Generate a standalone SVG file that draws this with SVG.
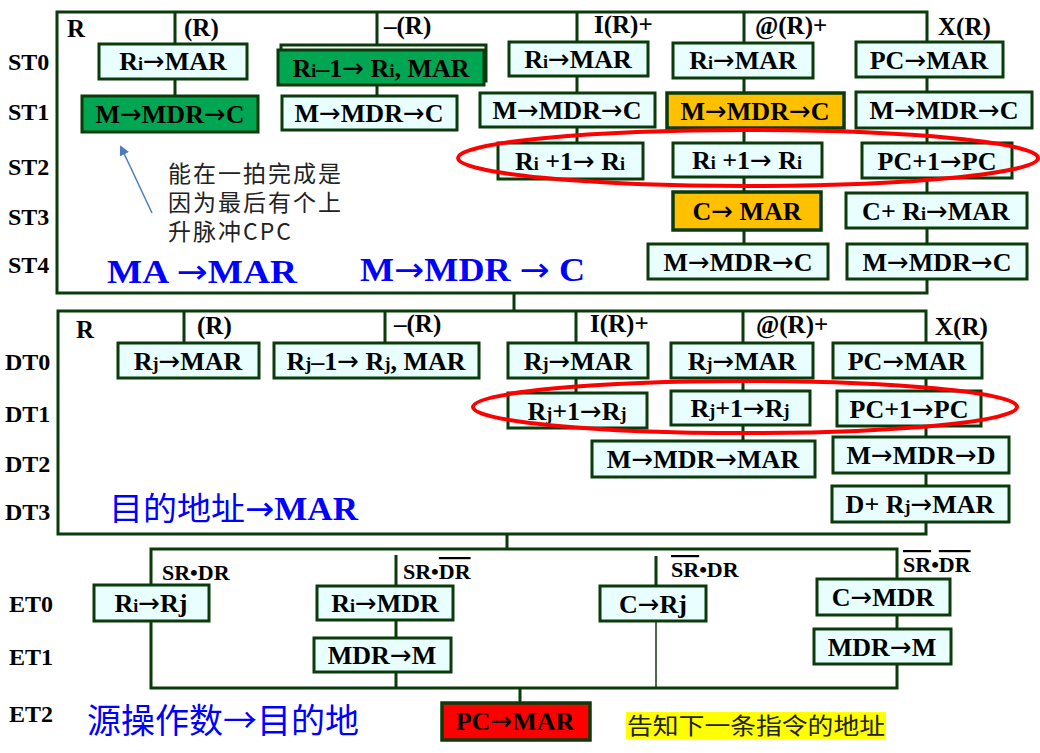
<svg xmlns="http://www.w3.org/2000/svg" width="1040" height="753" viewBox="0 0 1040 753">
<defs>
<style>
.ln{stroke:#0b3a0b;stroke-width:3;fill:none}
.thin{stroke:#0b3a0b;stroke-width:1.5;fill:none}
.bx{fill:#e9ffff;stroke:#0b3a0b;stroke-width:3}
.gr{fill:#00a651;stroke:#0b3a0b;stroke-width:3}
.or{fill:#ffc000;stroke:#0b3a0b;stroke-width:3.5}
.rd{fill:#ff0000;stroke:#0b3a0b;stroke-width:3.5}
.t{font-family:"Liberation Serif",serif;font-weight:bold;font-size:26px;text-anchor:middle;fill:#000}
.s{font-size:18px}
.a{font-family:"DejaVu Sans",sans-serif;font-weight:normal}
.lb{font-family:"Liberation Serif",serif;font-weight:bold;font-size:24px;fill:#000}
.cl{font-family:"Liberation Serif",serif;font-weight:bold;font-size:25px;fill:#000}
.sr{font-family:"Liberation Serif",serif;font-weight:bold;font-size:22px;fill:#000}
.ov{text-decoration:overline}
.blue{font-family:"Liberation Serif",serif;font-weight:bold;font-size:33px;fill:#0000ff}
.cjkb{font-family:"Noto Sans CJK SC",sans-serif;font-weight:normal;fill:#0000ff}
.cjk{font-family:"Noto Sans CJK SC",sans-serif;font-weight:normal;font-size:23px;letter-spacing:2px;fill:#222}
.ell{fill:none;stroke:#ff0000;stroke-width:4}
</style>
<marker id="ah" markerWidth="10" markerHeight="10" refX="8" refY="5" orient="auto" markerUnits="userSpaceOnUse">
<path d="M0,0 L10,5 L0,10 Z" fill="#4a7ebb"/>
</marker>
</defs>
<rect width="1040" height="753" fill="#ffffff"/>

<g id="connectors">
<rect class="ln" x="57" y="12" width="870" height="281"/>
<path class="ln" d="M175,12V96 M377,12V96 M577,12V143 M744,12V244 M514,293V311"/>
<rect class="ln" x="58" y="311" width="868" height="223"/>
<path class="ln" d="M184,311V343 M385,311V343 M576,311V393 M743,311V441 M507,534V549"/>
<rect class="ln" x="151" y="549" width="746" height="139"/>
<path class="ln" d="M396,555V688 M656,556V621 M520,688V703"/>
<path class="thin" d="M656,621V688"/>
<line x1="152" y1="213" x2="121" y2="147" stroke="#4a7ebb" stroke-width="1.5" marker-end="url(#ah)"/>
</g>

<g id="labels">
<text class="lb" x="8" y="70">ST0</text>
<text class="lb" x="8" y="120">ST1</text>
<text class="lb" x="8" y="175">ST2</text>
<text class="lb" x="8" y="225">ST3</text>
<text class="lb" x="8" y="273">ST4</text>
<text class="lb" x="5" y="370">DT0</text>
<text class="lb" x="5" y="422">DT1</text>
<text class="lb" x="5" y="472">DT2</text>
<text class="lb" x="5" y="520">DT3</text>
<text class="lb" x="9" y="612">ET0</text>
<text class="lb" x="9" y="665">ET1</text>
<text class="lb" x="9" y="722">ET2</text>

<text class="cl" x="67" y="37">R</text>
<text class="cl" x="184" y="36">(R)</text>
<text class="cl" x="384" y="34">–(R)</text>
<text class="cl" x="594" y="33">I(R)+</text>
<text class="cl" x="755" y="34">@(R)+</text>
<text class="cl" x="938" y="35">X(R)</text>

<text class="cl" x="76" y="338">R</text>
<text class="cl" x="197" y="334">(R)</text>
<text class="cl" x="394" y="332">–(R)</text>
<text class="cl" x="590" y="332">I(R)+</text>
<text class="cl" x="756" y="333">@(R)+</text>
<text class="cl" x="935" y="335">X(R)</text>

<text class="sr" x="162" y="580">SR•DR</text>
<text class="sr" x="403" y="579">SR•<tspan class="ov">DR</tspan></text>
<text class="sr" x="671" y="577"><tspan class="ov">SR</tspan>•DR</text>
<text class="sr" x="903" y="572"><tspan class="ov">SR</tspan>•<tspan class="ov">DR</tspan></text>

<text class="blue" x="107" y="283" textLength="190" lengthAdjust="spacingAndGlyphs">MA  <tspan class="a">→</tspan>MAR</text>
<text class="blue" x="360" y="281" textLength="225" lengthAdjust="spacingAndGlyphs">M<tspan class="a">→</tspan>MDR <tspan class="a">→</tspan> C</text>
<text x="109" y="520" textLength="249" lengthAdjust="spacingAndGlyphs"><tspan class="cjkb" font-size="32">目的地址</tspan><tspan class="blue"><tspan class="a">→</tspan>MAR</tspan></text>
<text class="cjkb" x="87" y="733" font-size="34">源操作数→目的地</text>

<text class="cjk" x="168" y="182">能在一拍完成是</text>
<text class="cjk" x="168" y="211">因为最后有个上</text>
<text class="cjk" x="168" y="240">升脉冲CPC</text>

<rect x="626" y="712" width="260" height="27" fill="#ffff00"/>
<text class="cjk" x="627" y="734" font-size="25" fill="#000" textLength="258" lengthAdjust="spacingAndGlyphs" style="letter-spacing:0">告知下一条指令的地址</text>
</g>

<g id="st0_R"><rect class="bx" x="99" y="44" width="148" height="35"/><text class="t" x="173" y="70">R<tspan class="s">i</tspan><tspan class="a">→</tspan>MAR</text></g>
<g id="st1_R"><rect class="gr" x="82" y="96" width="176" height="36"/><text class="t" x="170" y="123">M<tspan class="a">→</tspan>MDR<tspan class="a">→</tspan>C</text></g>
<g id="st0_mR"><rect x="281" y="45" width="205" height="36" fill="#ffffff" stroke="#0b3a0b" stroke-width="3"/><rect class="gr" x="278" y="50" width="206" height="35"/><text class="t" x="381" y="77">R<tspan class="s">i</tspan>–1<tspan class="a">→</tspan> R<tspan class="s">i</tspan>, MAR</text></g>
<g id="st1_mR"><rect class="bx" x="282" y="96" width="175" height="34"/><text class="t" x="369" y="122">M<tspan class="a">→</tspan>MDR<tspan class="a">→</tspan>C</text></g>
<g id="st0_I"><rect class="bx" x="509" y="42" width="139" height="34"/><text class="t" x="578" y="68">R<tspan class="s">i</tspan><tspan class="a">→</tspan>MAR</text></g>
<g id="st1_I"><rect class="bx" x="480" y="93" width="175" height="34"/><text class="t" x="567" y="119">M<tspan class="a">→</tspan>MDR<tspan class="a">→</tspan>C</text></g>
<g id="st2_I"><rect class="bx" x="498" y="143" width="145" height="36"/><text class="t" x="570" y="170">R<tspan class="s">i</tspan> +1<tspan class="a">→</tspan> R<tspan class="s">i</tspan></text></g>
<g id="st0_A"><rect class="bx" x="673" y="43" width="140" height="35"/><text class="t" x="743" y="69">R<tspan class="s">i</tspan><tspan class="a">→</tspan>MAR</text></g>
<g id="st1_A"><rect class="or" x="667" y="93" width="177" height="35"/><text class="t" x="755" y="120">M<tspan class="a">→</tspan>MDR<tspan class="a">→</tspan>C</text></g>
<g id="st2_A"><rect class="bx" x="673" y="143" width="149" height="34"/><text class="t" x="747" y="169">R<tspan class="s">i</tspan> +1<tspan class="a">→</tspan> R<tspan class="s">i</tspan></text></g>
<g id="st3_A"><rect class="or" x="673" y="192" width="148" height="38"/><text class="t" x="747" y="220">C<tspan class="a">→</tspan> MAR</text></g>
<g id="st4_A"><rect class="bx" x="648" y="244" width="180" height="35"/><text class="t" x="738" y="271">M<tspan class="a">→</tspan>MDR<tspan class="a">→</tspan>C</text></g>
<g id="st0_X"><rect class="bx" x="856" y="42" width="147" height="35"/><text class="t" x="929" y="69">PC<tspan class="a">→</tspan>MAR</text></g>
<g id="st1_X"><rect class="bx" x="856" y="92" width="176" height="36"/><text class="t" x="944" y="119">M<tspan class="a">→</tspan>MDR<tspan class="a">→</tspan>C</text></g>
<g id="st2_X"><rect class="bx" x="862" y="143" width="150" height="35"/><text class="t" x="937" y="170">PC+1<tspan class="a">→</tspan>PC</text></g>
<g id="st3_X"><rect class="bx" x="846" y="193" width="181" height="35"/><text class="t" x="936" y="220">C+ R<tspan class="s">i</tspan><tspan class="a">→</tspan>MAR</text></g>
<g id="st4_X"><rect class="bx" x="847" y="244" width="180" height="35"/><text class="t" x="937" y="271">M<tspan class="a">→</tspan>MDR<tspan class="a">→</tspan>C</text></g>

<g id="dt0_R"><rect class="bx" x="118" y="343" width="141" height="35"/><text class="t" x="188" y="370">R<tspan class="s">j</tspan><tspan class="a">→</tspan>MAR</text></g>
<g id="dt0_mR"><rect class="bx" x="274" y="343" width="205" height="35"/><text class="t" x="376" y="370">R<tspan class="s">j</tspan>–1<tspan class="a">→</tspan> R<tspan class="s">j</tspan>, MAR</text></g>
<g id="dt0_I"><rect class="bx" x="508" y="343" width="140" height="35"/><text class="t" x="578" y="370">R<tspan class="s">j</tspan><tspan class="a">→</tspan>MAR</text></g>
<g id="dt0_A"><rect class="bx" x="671" y="343" width="142" height="35"/><text class="t" x="742" y="370">R<tspan class="s">j</tspan><tspan class="a">→</tspan>MAR</text></g>
<g id="dt0_X"><rect class="bx" x="833" y="343" width="149" height="35"/><text class="t" x="907" y="370">PC<tspan class="a">→</tspan>MAR</text></g>
<g id="dt1_I"><rect class="bx" x="508" y="393" width="139" height="35"/><text class="t" x="577" y="420">R<tspan class="s">j</tspan>+1<tspan class="a">→</tspan>R<tspan class="s">j</tspan></text></g>
<g id="dt1_A"><rect class="bx" x="671" y="391" width="139" height="34"/><text class="t" x="740" y="417">R<tspan class="s">j</tspan>+1<tspan class="a">→</tspan>R<tspan class="s">j</tspan></text></g>
<g id="dt1_X"><rect class="bx" x="837" y="391" width="144" height="35"/><text class="t" x="909" y="418">PC+1<tspan class="a">→</tspan>PC</text></g>
<g id="dt2_A"><rect class="bx" x="592" y="441" width="223" height="36"/><text class="t" x="703" y="468">M<tspan class="a">→</tspan>MDR<tspan class="a">→</tspan>MAR</text></g>
<g id="dt2_X"><rect class="bx" x="833" y="437" width="176" height="36"/><text class="t" x="921" y="464">M<tspan class="a">→</tspan>MDR<tspan class="a">→</tspan>D</text></g>
<g id="dt3_X"><rect class="bx" x="832" y="486" width="177" height="36"/><text class="t" x="920" y="513">D+ R<tspan class="s">j</tspan><tspan class="a">→</tspan>MAR</text></g>

<g id="et0_1"><rect class="bx" x="94" y="585" width="115" height="36"/><text class="t" x="151" y="612">R<tspan class="s">i</tspan><tspan class="a">→</tspan>Rj</text></g>
<g id="et0_2"><rect class="bx" x="317" y="586" width="136" height="34"/><text class="t" x="385" y="612">R<tspan class="s">i</tspan><tspan class="a">→</tspan>MDR</text></g>
<g id="et1_2"><rect class="bx" x="314" y="638" width="137" height="34"/><text class="t" x="382" y="664">MDR<tspan class="a">→</tspan>M</text></g>
<g id="et0_3"><rect class="bx" x="600" y="586" width="106" height="35"/><text class="t" x="653" y="613">C<tspan class="a">→</tspan>Rj</text></g>
<g id="et0_4"><rect class="bx" x="817" y="579" width="133" height="36"/><text class="t" x="883" y="606">C<tspan class="a">→</tspan>MDR</text></g>
<g id="et1_4"><rect class="bx" x="814" y="629" width="137" height="35"/><text class="t" x="882" y="656">MDR<tspan class="a">→</tspan>M</text></g>
<g id="et2_pc"><rect class="rd" x="442" y="703" width="148" height="37"/><text class="t" x="515" y="730" font-size="24">PC<tspan class="a">→</tspan>MAR</text></g>

<g id="ellipses">
<ellipse class="ell" cx="748" cy="158" rx="290" ry="28"/>
<ellipse class="ell" cx="745" cy="407" rx="272" ry="26"/>
</g>
</svg>
